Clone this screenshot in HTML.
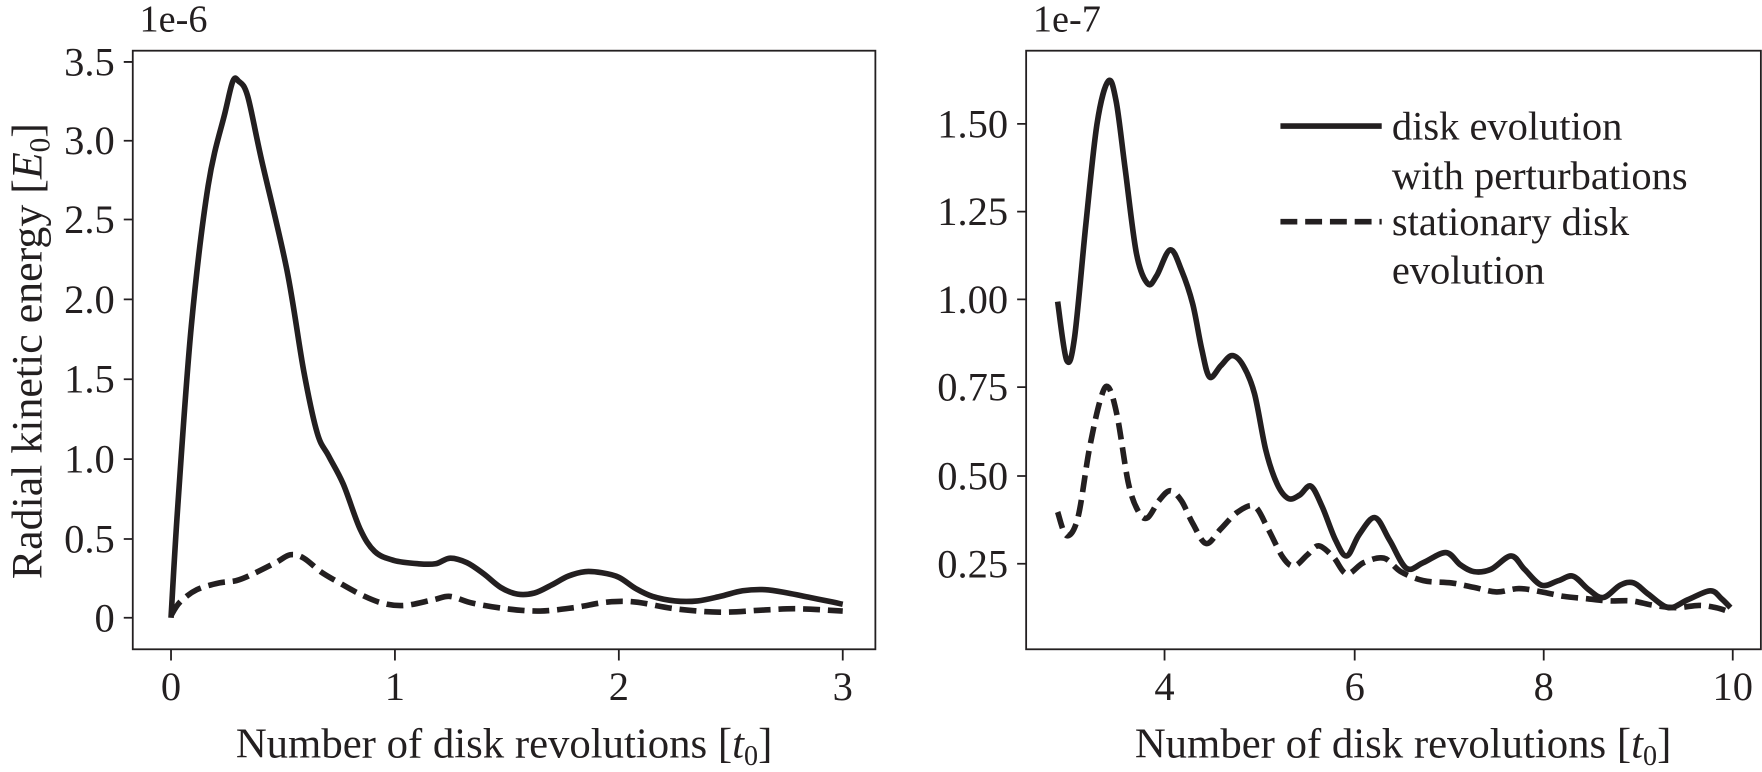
<!DOCTYPE html>
<html><head><meta charset="utf-8"><style>
html,body{margin:0;padding:0;background:#fff;}
svg{display:block;}
text{font-family:"Liberation Serif",serif;fill:#231f20;}
</style></head><body>
<svg width="1762" height="772" viewBox="0 0 1566 686" xmlns="http://www.w3.org/2000/svg">
<g fill="none" stroke="#231f20" stroke-width="1.6">
<rect x="118" y="45" width="660" height="532"/>
<rect x="912" y="45" width="653" height="532"/>
<path d="M110 55H118M110 125H118M110 195H118M110 266H118M110 337H118M110 408H118M110 479H118M110 549H118"/>
<path d="M152 577V587M351 577V587M550 577V587M749 577V587"/>
<path d="M904 110H912M904 188H912M904 266H912M904 344H912M904 423H912M904 501H912"/>
<path d="M1035 577V587M1204 577V587M1372 577V587M1540 577V587"/>
</g>
<g font-size="36" text-anchor="end" dominant-baseline="central">
<text x="102" y="55">3.5</text><text x="102" y="125">3.0</text><text x="102" y="195">2.5</text><text x="102" y="266">2.0</text><text x="102" y="337">1.5</text><text x="102" y="408">1.0</text><text x="102" y="479">0.5</text><text x="102" y="549">0</text>
<text x="896" y="110">1.50</text><text x="896" y="188">1.25</text><text x="896" y="266">1.00</text><text x="896" y="344">0.75</text><text x="896" y="423">0.50</text><text x="896" y="501">0.25</text>
</g>
<g font-size="36" text-anchor="middle">
<text x="152" y="622">0</text><text x="351" y="622">1</text><text x="550" y="622">2</text><text x="749" y="622">3</text>
<text x="1035" y="622">4</text><text x="1204" y="622">6</text><text x="1372" y="622">8</text><text x="1540" y="622">10</text>
</g>
<g font-size="38" text-anchor="middle">
<text x="448" y="673">Number of disk revolutions [<tspan font-style="italic">t</tspan><tspan font-size="25" dy="7">0</tspan><tspan dy="-7">]</tspan></text>
<text x="1247" y="673">Number of disk revolutions [<tspan font-style="italic">t</tspan><tspan font-size="25" dy="7">0</tspan><tspan dy="-7">]</tspan></text>
</g>
<text x="124" y="28" font-size="34">1e-6</text>
<text x="918" y="28" font-size="34">1e-7</text>
<text transform="translate(37,312) rotate(-90)" font-size="39" text-anchor="middle">Radial kinetic energy [<tspan font-style="italic">E</tspan><tspan font-size="26" dy="7">0</tspan><tspan dy="-7">]</tspan></text>
<g font-size="36" dominant-baseline="central">
<text x="1237" y="112">disk evolution</text>
<text x="1237" y="156">with perturbations</text>
<text x="1237" y="197">stationary disk</text>
<text x="1237" y="240">evolution</text>
</g>
<g fill="none" stroke="#231f20" stroke-width="5" stroke-linejoin="round" stroke-linecap="butt">
<path d="M1138 112H1228"/>
<path d="M1138 197H1228" stroke-dasharray="15 7"/>
<path class="s" data-p="152,549 158,450 170,290 185,165 200,100 207,72 212,72 220,85 232,140 255,240 270,330 282,385 292,405 305,430 320,470 333,490 350,498 372,501 387,501 400,496 415,500 430,510 445,522 460,528 475,527 490,520 505,512 520,508 535,509 550,513 565,523 580,530 600,534 620,534 640,530 660,525 680,524 700,527 720,531 740,535 749,537"/>
<path class="s" stroke-dasharray="15 7" data-p="152,547 160,535 175,524 195,518 210,516 225,510 245,500 258,493 270,496 285,508 300,517 320,528 340,536 360,538 385,533 400,530 420,536 450,541 480,543 510,540 540,535 565,535 600,541 640,544 680,542 710,541 749,543"/>
<path class="s" data-p="940,268 948,320 955,300 965,200 975,110 985,72 992,90 1000,150 1010,225 1020,252 1028,245 1040,222 1050,240 1060,270 1068,310 1075,335 1085,325 1095,316 1105,325 1115,350 1125,400 1135,430 1145,443 1155,440 1165,432 1175,450 1187,480 1197,494 1208,475 1222,460 1235,480 1250,505 1265,500 1285,491 1298,502 1310,508 1325,506 1343,494 1355,506 1370,520 1385,516 1398,512 1412,524 1425,531 1440,520 1452,518 1465,528 1483,540 1500,533 1520,525 1530,532 1538,540"/>
<path class="s" stroke-dasharray="15 7" data-p="940,455 948,476 958,460 968,400 978,355 985,344 993,370 1003,430 1012,455 1020,460 1030,445 1040,436 1050,445 1060,465 1072,483 1085,470 1100,455 1115,450 1127,470 1140,495 1150,503 1162,493 1172,485 1185,495 1197,510 1212,500 1230,496 1245,508 1265,516 1290,518 1310,522 1330,526 1350,523 1370,526 1390,530 1410,532 1430,534 1450,534 1470,538 1490,540 1510,538 1525,540 1538,544"/>
</g>
</svg>
<script>
document.querySelectorAll('path.s').forEach(function(el){
  var p=el.getAttribute('data-p').trim().split(/\s+/).map(function(s){return s.split(',').map(Number);});
  var d='M'+p[0][0]+' '+p[0][1];
  for(var i=0;i<p.length-1;i++){
    var p0=p[i-1]||p[i],p1=p[i],p2=p[i+1],p3=p[i+2]||p2;
    var c1x=p1[0]+(p2[0]-p0[0])/6,c1y=p1[1]+(p2[1]-p0[1])/6;
    var c2x=p2[0]-(p3[0]-p1[0])/6,c2y=p2[1]-(p3[1]-p1[1])/6;
    d+=' C'+c1x.toFixed(1)+' '+c1y.toFixed(1)+' '+c2x.toFixed(1)+' '+c2y.toFixed(1)+' '+p2[0]+' '+p2[1];
  }
  el.setAttribute('d',d);
});
</script>
</body></html>
